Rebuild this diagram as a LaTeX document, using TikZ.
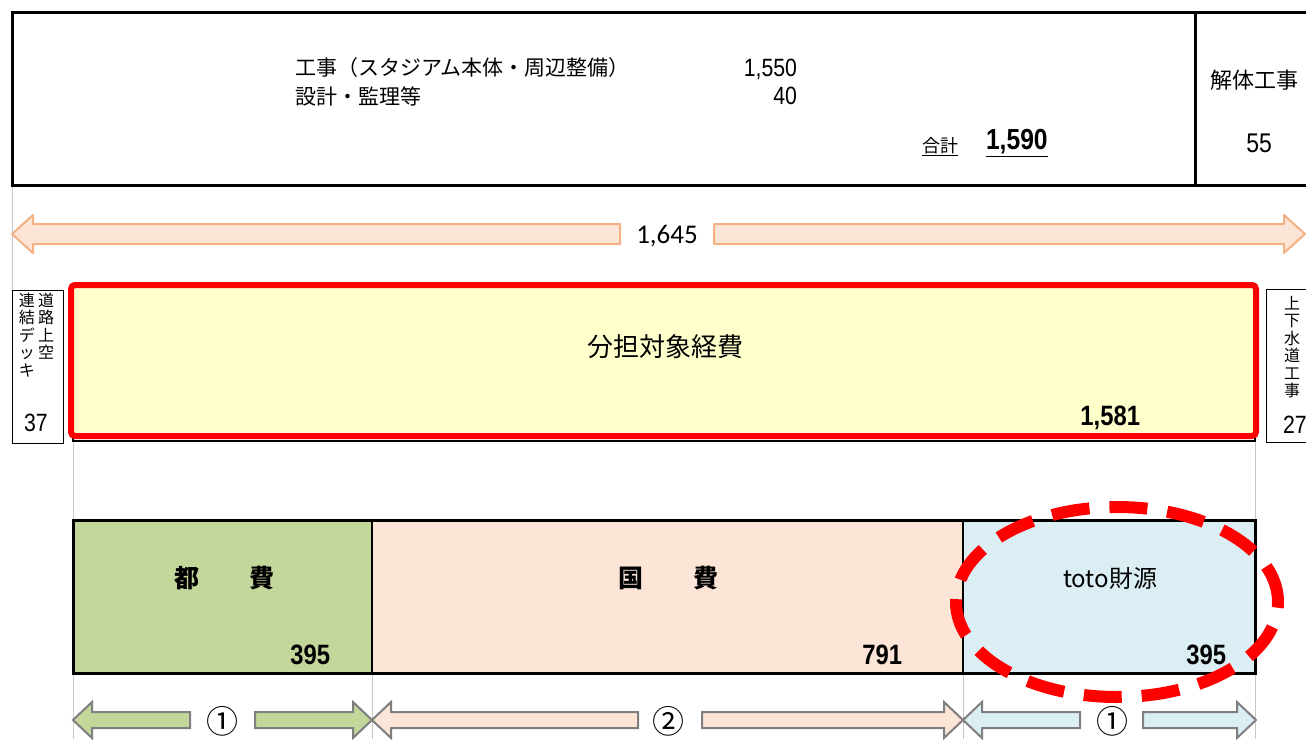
\documentclass[tikz,border=0pt]{standalone}
\usepackage{fontspec}
\setmainfont{Noto Sans CJK JP}
\newfontfamily\numfont[FakeStretch=0.85]{Liberation Sans}
\newfontfamily\calfont{Carlito}
\usetikzlibrary{positioning,shapes.geometric}
\definecolor{tocolor}{HTML}{C4D79B}
\definecolor{kunicolor}{HTML}{FCE4D6}
\definecolor{totocolor}{HTML}{DAEEF3}
\definecolor{taishocolor}{HTML}{FFFFCC}
\definecolor{peachline}{HTML}{F4B183}
\definecolor{guidegray}{HTML}{C8C8C8}
\definecolor{arrowgray}{HTML}{7F7F7F}
\newcommand{\sz}[1]{\fontsize{#1}{#1}\selectfont}
\newcommand{\sidearrow}[7]{\draw[#1] (#3,{#4-#6}) -- ({#2+#5},{#4-#6}) -- ({#2+#5},{#4-#7}) -- (#2,#4) -- ({#2+#5},{#4+#7}) -- ({#2+#5},{#4+#6}) -- (#3,{#4+#6}) -- cycle;}

\begin{document}
\begin{tikzpicture}[x=1pt, y=-1pt, inner sep=0pt, outer sep=0pt]
    \tikzstyle{frame} = [draw, line width=3pt]
    \tikzstyle{fundbox} = [draw, line width=2pt, minimum height=153pt]
    \tikzstyle{sidebox} = [draw, line width=1pt, minimum width=51pt, minimum height=153pt]
    \tikzstyle{guide} = [draw=guidegray, line width=1pt]
    \tikzstyle{jptext} = [font=\sz{21}]
    \tikzstyle{vtext} = [font=\fontsize{16}{17.5}\selectfont, align=center]
    \tikzstyle{numtext} = [font=\numfont\sz{25}]
    \tikzstyle{numbold} = [font=\numfont\bfseries\sz{28}]
    \tikzstyle{sumarrow} = [draw=peachline, fill=kunicolor, line width=2pt, line join=round]
    \tikzstyle{fundarrow} = [draw=arrowgray, line width=2pt]
    \tikzstyle{share} = [font=\sz{32}]

    \useasboundingbox (0,0) rectangle (1306,739);
    \clip (0,0) rectangle (1306,739);
    \fill[white] (0,0) rectangle (1306,739);

    \draw[guide] (12,185) -- (12,290);
    \draw[guide] (73,441) -- (73,739);
    \draw[guide] (372,673) -- (372,739);
    \draw[guide] (963,673) -- (963,739);
    \draw[guide] (1255,441) -- (1255,739);

    \node [frame, anchor=north west, minimum width=1183pt, minimum height=173pt] (seibi) at (12,12) {};
    \node [frame, anchor=north west, minimum width=140pt, minimum height=173pt] (kaitai) at (1195,12) {};
    \node [jptext, anchor=west] (koji) at (295,68) {工事（スタジアム本体・周辺整備）};
    \node [jptext, anchor=west] (sekkei) at (295,96) {設計・監理等};
    \node [numtext, anchor=east] (kojival) at (797,69) {1,550};
    \node [numtext, anchor=east] (sekkeival) at (797,96) {40};
    \node [font=\sz{18}, anchor=east] (gokei) at (958,147) {\underline{合計}};
    \node [font=\numfont\bfseries\sz{29}, anchor=west] (gokeival) at (986,143) {\underline{1,590}};
    \node [font=\sz{22}, anchor=west] (kaitaitext) at (1210,80) {解体工事};
    \node [numtext, font=\numfont\sz{27}] (kaitaival) at (1259,143) {55};

    \sidearrow{sumarrow}{12}{620}{234}{21}{10}{19}
    \sidearrow{sumarrow}{1305}{714}{234}{-21}{10}{19}
    \node [font=\calfont\sz{27}] (sogaku) at (667,236) {1,645};

    \node [sidebox, anchor=north west] (deck) at (12,290) {};
    \node [vtext, anchor=north] (deckA) at (46,293) {道\\路\\上\\空};
    \node [vtext, anchor=north] (deckB) at (27,293) {連\\結\\デ\\ッ\\キ};
    \node [numtext] (deckval) at (36,423) {37};

    \node [sidebox, anchor=north west] (gesuido) at (1266,289) {};
    \node [vtext, anchor=north] (gesuidotext) at (1292,296) {上\\下\\水\\道\\工\\事};
    \node [numtext, anchor=west] (gesuidoval) at (1283,425) {27};

    \draw [line width=1.5pt] (73,289) rectangle (1255,441);
    \node [draw=red, line width=6pt, rounded corners=4pt, fill=taishocolor, anchor=north west,
        minimum width=1185pt, minimum height=151pt] (taisho) at (71,285) {};
    \node [font=\sz{26}] (taishotext) at (665,347) {分担対象経費};
    \node [numbold, anchor=east] (taishoval) at (1140,418) {1,581};

    \node [fundbox, fill=tocolor, minimum width=299pt, anchor=north west] (tohi) at (73,520) {};
    \node [fundbox, fill=kunicolor, minimum width=591pt, right=0pt of tohi] (kokuhi) {};
    \node [fundbox, fill=totocolor, minimum width=292pt, right=0pt of kokuhi] (toto) {};
    \draw [line width=3pt] (tohi.north west) rectangle (toto.south east);
    \node [font=\bfseries\sz{25}] (tohitext) at (224,578) {都　　費};
    \node [font=\bfseries\sz{25}] (kokuhitext) at (668,578) {国　　費};
    \node [font=\sz{24}] (tototext) at (1110,578) {toto財源};
    \node [numbold, anchor=east] (tohival) at (330,655) {395};
    \node [numbold, anchor=east] (kokuhival) at (902,655) {791};
    \node [numbold, anchor=east] (totoval) at (1226,655) {395};

    \node [ellipse, draw=red, line width=12pt, dash pattern=on 38pt off 20pt,
        minimum width=322pt, minimum height=190pt] (oval) at (1117,602) {};

    \sidearrow{fundarrow, fill=tocolor}{73}{190}{720}{19}{8}{18}
    \sidearrow{fundarrow, fill=tocolor}{372}{255}{720}{-19}{8}{18}
    \node [share] (toshare) at (222,721) {①};
    \sidearrow{fundarrow, fill=kunicolor}{372}{638}{720}{19}{8}{18}
    \sidearrow{fundarrow, fill=kunicolor}{963}{702}{720}{-19}{8}{18}
    \node [share] (kunishare) at (668,721) {②};
    \sidearrow{fundarrow, fill=totocolor}{963}{1080}{720}{19}{8}{18}
    \sidearrow{fundarrow, fill=totocolor}{1256}{1143}{720}{-19}{8}{18}
    \node [share] (totoshare) at (1112,721) {①};
\end{tikzpicture}
\end{document}
